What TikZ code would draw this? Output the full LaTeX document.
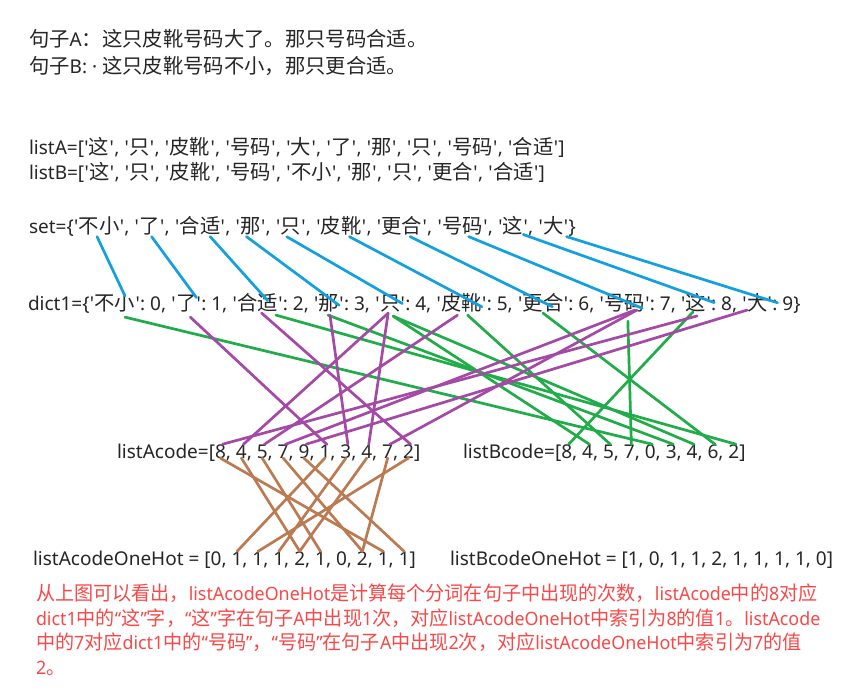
\documentclass[tikz,border=0pt]{standalone}
\usepackage{fontspec}
\newfontfamily\enfont{Noto Sans}
\newfontfamily\zhfont[Scale=1.07]{Noto Sans CJK SC}
\newcommand\zh[1]{{\zhfont #1}}
\newcommand\q{\kern0.35pt'\kern0.35pt}
\newcommand\cs{,\ \null}
\usetikzlibrary{calc}
\definecolor{ink}{RGB}{38,38,38}
\definecolor{redtxt}{RGB}{250,72,72}
\definecolor{lblue}{RGB}{18,160,222}
\definecolor{lpurple}{RGB}{164,74,166}
\definecolor{lgreen}{RGB}{32,172,72}
\definecolor{lbrown}{RGB}{188,122,82}
\begin{document}
\begin{tikzpicture}[x=1pt,y=-1pt,
  every node/.style={inner sep=0pt,outer sep=0pt},
  txt/.style={anchor=base west,text=ink,font=\enfont\fontsize{19}{23}\selectfont},
  note/.style={anchor=base west,text=redtxt,font=\enfont\fontsize{18.4}{23}\selectfont},
  bl/.style={draw=lblue,line width=2.7pt,line cap=round},
  pl/.style={draw=lpurple,line width=2.7pt,line cap=round},
  gl/.style={draw=lgreen,line width=2.7pt,line cap=round},
  brl/.style={draw=lbrown,line width=2.7pt,line cap=round}]
\fill[white] (0,0) rectangle (863,689);
\useasboundingbox (0,0) rectangle (863,689);

% sentences
\node[txt] (sa) at (29,46) {\zh{句子}A\zh{：这只皮靴号码大了。那只号码合适。}};
\node[txt] (sb) at (29,73.5) {\zh{句子}B:\kern5pt·\kern5pt\zh{这只皮靴号码不小，那只更合适。}};

% lists
\node[txt] (la) at (29,154.5) {listA=[\q\zh{这}\q, \q\zh{只}\q, \q\zh{皮靴}\q, \q\zh{号码}\q, \q\zh{大}\q, \q\zh{了}\q, \q\zh{那}\q, \q\zh{只}\q, \q\zh{号码}\q, \q\zh{合适}\q]};
\node[txt] (lb) at (29,179.5) {listB=[\q\zh{这}\q, \q\zh{只}\q, \q\zh{皮靴}\q, \q\zh{号码}\q, \q\zh{不小}\q, \q\zh{那}\q, \q\zh{只}\q, \q\zh{更合}\q, \q\zh{合适}\q]};

% set row
\node[txt] (s0) at (29,233) {set=\{\q};
\node[txt] (sk0) at (s0.base east) {\zh{不小}};
\node[txt] (s1) at (sk0.base east) {\q,\ \q};
\node[txt] (sk1) at (s1.base east) {\zh{了}};
\node[txt] (s2) at (sk1.base east) {\q,\ \q};
\node[txt] (sk2) at (s2.base east) {\zh{合适}};
\node[txt] (s3) at (sk2.base east) {\q,\ \q};
\node[txt] (sk3) at (s3.base east) {\zh{那}};
\node[txt] (s4) at (sk3.base east) {\q,\ \q};
\node[txt] (sk4) at (s4.base east) {\zh{只}};
\node[txt] (s5) at (sk4.base east) {\q,\ \q};
\node[txt] (sk5) at (s5.base east) {\zh{皮靴}};
\node[txt] (s6) at (sk5.base east) {\q,\ \q};
\node[txt] (sk6) at (s6.base east) {\zh{更合}};
\node[txt] (s7) at (sk6.base east) {\q,\ \q};
\node[txt] (sk7) at (s7.base east) {\zh{号码}};
\node[txt] (s8) at (sk7.base east) {\q,\ \q};
\node[txt] (sk8) at (s8.base east) {\zh{这}};
\node[txt] (s9) at (sk8.base east) {\q,\ \q};
\node[txt] (sk9) at (s9.base east) {\zh{大}};
\node[txt] (s10) at (sk9.base east) {\q\}};

% dict row
\node[txt] (d0) at (28,310.5) {dict1=\{\q};
\node[txt] (dk0) at (d0.base east) {\zh{不小}};
\node[txt] (d1) at (dk0.base east) {\q:\ 0,\ \q};
\node[txt] (dk1) at (d1.base east) {\zh{了}};
\node[txt] (d2) at (dk1.base east) {\q:\ 1,\ \q};
\node[txt] (dk2) at (d2.base east) {\zh{合适}};
\node[txt] (d3) at (dk2.base east) {\q:\ 2,\ \q};
\node[txt] (dk3) at (d3.base east) {\zh{那}};
\node[txt] (d4) at (dk3.base east) {\q:\ 3,\ \q};
\node[txt] (dk4) at (d4.base east) {\zh{只}};
\node[txt] (d5) at (dk4.base east) {\q:\ 4,\ \q};
\node[txt] (dk5) at (d5.base east) {\zh{皮靴}};
\node[txt] (d6) at (dk5.base east) {\q:\ 5,\ \q};
\node[txt] (dk6) at (d6.base east) {\zh{更合}};
\node[txt] (d7) at (dk6.base east) {\q:\ 6,\ \q};
\node[txt] (dk7) at (d7.base east) {\zh{号码}};
\node[txt] (d8) at (dk7.base east) {\q:\ 7,\ \q};
\node[txt] (dk8) at (d8.base east) {\zh{这}};
\node[txt] (d9) at (dk8.base east) {\q:\ 8,\ \q};
\node[txt] (dk9) at (d9.base east) {\zh{大}};
\node[txt] (d10) at (dk9.base east) {\q:\ 9\}};

% listAcode
\node[txt] (ah) at (117,458) {listAcode=[};
\node[txt] (a0) at (ah.base east) {8};
\node[txt] (ac0) at (a0.base east) {\cs};
\node[txt] (a1) at (ac0.base east) {4};
\node[txt] (ac1) at (a1.base east) {\cs};
\node[txt] (a2) at (ac1.base east) {5};
\node[txt] (ac2) at (a2.base east) {\cs};
\node[txt] (a3) at (ac2.base east) {7};
\node[txt] (ac3) at (a3.base east) {\cs};
\node[txt] (a4) at (ac3.base east) {9};
\node[txt] (ac4) at (a4.base east) {\cs};
\node[txt] (a5) at (ac4.base east) {1};
\node[txt] (ac5) at (a5.base east) {\cs};
\node[txt] (a6) at (ac5.base east) {3};
\node[txt] (ac6) at (a6.base east) {\cs};
\node[txt] (a7) at (ac6.base east) {4};
\node[txt] (ac7) at (a7.base east) {\cs};
\node[txt] (a8) at (ac7.base east) {7};
\node[txt] (ac8) at (a8.base east) {\cs};
\node[txt] (a9) at (ac8.base east) {2};
\node[txt] (ae) at (a9.base east) {]};

% listBcode
\node[txt] (bh) at (463,458) {listBcode=[};
\node[txt] (b0) at (bh.base east) {8};
\node[txt] (bc0) at (b0.base east) {\cs};
\node[txt] (b1) at (bc0.base east) {4};
\node[txt] (bc1) at (b1.base east) {\cs};
\node[txt] (b2) at (bc1.base east) {5};
\node[txt] (bc2) at (b2.base east) {\cs};
\node[txt] (b3) at (bc2.base east) {7};
\node[txt] (bc3) at (b3.base east) {\cs};
\node[txt] (b4) at (bc3.base east) {0};
\node[txt] (bc4) at (b4.base east) {\cs};
\node[txt] (b5) at (bc4.base east) {3};
\node[txt] (bc5) at (b5.base east) {\cs};
\node[txt] (b6) at (bc5.base east) {4};
\node[txt] (bc6) at (b6.base east) {\cs};
\node[txt] (b7) at (bc6.base east) {6};
\node[txt] (bc7) at (b7.base east) {\cs};
\node[txt] (b8) at (bc7.base east) {2};
\node[txt] (be) at (b8.base east) {]};

% listAcodeOneHot
\node[txt] (hh) at (33,565) {listAcodeOneHot = [};
\node[txt] (h0) at (hh.base east) {0};
\node[txt] (hc0) at (h0.base east) {\cs};
\node[txt] (h1) at (hc0.base east) {1};
\node[txt] (hc1) at (h1.base east) {\cs};
\node[txt] (h2) at (hc1.base east) {1};
\node[txt] (hc2) at (h2.base east) {\cs};
\node[txt] (h3) at (hc2.base east) {1};
\node[txt] (hc3) at (h3.base east) {\cs};
\node[txt] (h4) at (hc3.base east) {2};
\node[txt] (hc4) at (h4.base east) {\cs};
\node[txt] (h5) at (hc4.base east) {1};
\node[txt] (hc5) at (h5.base east) {\cs};
\node[txt] (h6) at (hc5.base east) {0};
\node[txt] (hc6) at (h6.base east) {\cs};
\node[txt] (h7) at (hc6.base east) {2};
\node[txt] (hc7) at (h7.base east) {\cs};
\node[txt] (h8) at (hc7.base east) {1};
\node[txt] (hc8) at (h8.base east) {\cs};
\node[txt] (h9) at (hc8.base east) {1};
\node[txt] (he) at (h9.base east) {]};

\node[txt] (ob) at (450,565) {listBcodeOneHot = [1, 0, 1, 1, 2, 1, 1, 1, 1, 0]};

% explanation
\node[note] (n1) at (36,600.5) {\scalebox{0.97}[1]{\zh{从上图可以看出，}listAcodeOneHot\zh{是计算每个分词在句子中出现的次数，}listAcode\zh{中的}8\zh{对应}}};
\node[note] (n2) at (36,625) {\scalebox{0.97}[1]{dict1\zh{中的}“\zh{这}”\zh{字，}“\zh{这}”\zh{字在句子}A\zh{中出现}1\zh{次，对应}listAcodeOneHot\zh{中索引为}8\zh{的值}1\zh{。}listAcode}};
\node[note] (n3) at (36,649.5) {\scalebox{0.97}[1]{\zh{中的}7\zh{对应}dict1\zh{中的}“\zh{号码}”\zh{，}“\zh{号码}”\zh{在句子}A\zh{中出现}2\zh{次，对应}listAcodeOneHot\zh{中索引为}7\zh{的值}}};
\node[note] (n4) at (36,674.5) {\scalebox{0.97}[1]{2\zh{。}}};

% blue: set -> dict1
\draw[bl] ($(sk0.south west)!0.45!(sk0.south east)+(0,2)$) -- ($(dk0.west)!0.75!(dk0.east)+(0,-7)$);
\draw[bl] ($(sk1.south west)!0.6!(sk1.south east)+(0,2)$) -- ($(dk1.west)!1.0!(dk1.east)+(0,-6)$);
\draw[bl] ($(sk2.south west)!0.75!(sk2.south east)+(0,2)$) -- ($(dk2.west)!0.75!(dk2.east)+(0,-2)$);
\draw[bl] ($(sk3.south west)!0.3!(sk3.south east)+(0,2)$) -- ($(dk3.west)!1.0!(dk3.east)+(0,2)$);
\draw[bl] ($(sk4.south west)!0.3!(sk4.south east)+(0,2)$) -- ($(dk4.west)!1.1!(dk4.east)+(0,0)$);
\draw[bl] ($(sk5.south west)!0.7!(sk5.south east)+(0,2)$) -- ($(dk5.west)!1.0!(dk5.east)+(0,4)$);
\draw[bl] ($(sk6.south west)!0.7!(sk6.south east)+(0,2)$) -- ($(dk6.west)!0.73!(dk6.east)+(0,4)$);
\draw[bl] ($(sk7.south west)!0.65!(sk7.south east)+(0,2)$) -- ($(dk7.west)!0.93!(dk7.east)+(0,5)$);
\draw[bl] ($(sk8.south west)!1.0!(sk8.south east)+(0,0)$) -- ($(dk8.west)!1.4!(dk8.east)+(0,0)$);
\draw[bl] ($(sk9.south west)!1.15!(sk9.south east)+(0,2)$) -- ($(dk9.west)!1.5!(dk9.east)+(0,0)$);

% green: dict1 -> listBcode
\draw[gl] ($(dk8.south west)!0.35!(dk8.south east)+(0,0)$) -- ([xshift=2pt]b0.north);
\draw[gl] ($(dk4.south west)!0.65!(dk4.south east)+(0,4)$) -- ([xshift=2pt]b1.north);
\draw[gl] ($(dk5.south west)!0.65!(dk5.south east)+(0,3)$) -- ([xshift=2pt]b2.north);
\draw[gl] ($(dk7.south west)!0.58!(dk7.south east)+(0,9)$) -- ([xshift=2pt]b3.north);
\draw[gl] ($(dk0.south west)!0.75!(dk0.south east)+(0,5)$) -- ([xshift=2pt]b4.north);
\draw[gl] ($(dk3.south west)!0.45!(dk3.south east)+(0,3)$) -- ([xshift=2pt]b5.north);
\draw[gl] ($(dk4.south west)!0.65!(dk4.south east)+(0,4)$) -- ([xshift=2pt]b6.north);
\draw[gl] ($(dk6.south west)!0.5!(dk6.south east)+(0,1)$) -- ([xshift=2pt]b7.north);
\draw[gl] ($(dk2.south west)!0.95!(dk2.south east)+(0,3)$) -- ([xshift=2pt]b8.north);

% purple: dict1 -> listAcode
\draw[pl] ($(dk8.south west)!0.55!(dk8.south east)+(0,4)$) -- ([xshift=2pt]a0.north);
\draw[pl] ($(dk4.south west)!0.4!(dk4.south east)+(0,1)$) -- ([xshift=2pt]a1.north);
\draw[pl] ($(dk5.south west)!0.4!(dk5.south east)+(0,3)$) -- ([xshift=2pt]a2.north);
\draw[pl] ($(dk7.south west)!0.75!(dk7.south east)+(0,-2)$) -- ([xshift=2pt]a3.north);
\draw[pl] ($(dk9.south west)!0.0!(dk9.south east)+(0,-2)$) -- ([xshift=2pt]a4.north);
\draw[pl] ($(dk1.south west)!0.7!(dk1.south east)+(0,5)$) -- ([xshift=2pt]a5.north);
\draw[pl] ($(dk3.south west)!0.55!(dk3.south east)+(0,3)$) -- ([xshift=2pt]a6.north);
\draw[pl] ($(dk4.south west)!0.4!(dk4.south east)+(0,1)$) -- ([xshift=2pt]a7.north);
\draw[pl] ($(dk7.south west)!0.8!(dk7.south east)+(0,-2)$) -- ([xshift=2pt]a8.north);
\draw[pl] ($(dk2.south west)!0.6!(dk2.south east)+(0,1)$) -- ([xshift=2pt]a9.north);

% brown: listAcode -> listAcodeOneHot
\draw[brl] (a0.south) -- (h8.north);
\draw[brl] (a1.south) -- (h4.north);
\draw[brl] (a2.south) -- (h5.north);
\draw[brl] (a3.south) -- (h7.north);
\draw[brl] (a4.south) -- (h9.north);
\draw[brl] (a5.south) -- (h1.north);
\draw[brl] (a6.south) -- (h3.north);
\draw[brl] (a7.south) -- (h4.north);
\draw[brl] (a8.south) -- (h7.north);
\draw[brl] (a9.south) -- (h2.north);
\end{tikzpicture}
\end{document}
